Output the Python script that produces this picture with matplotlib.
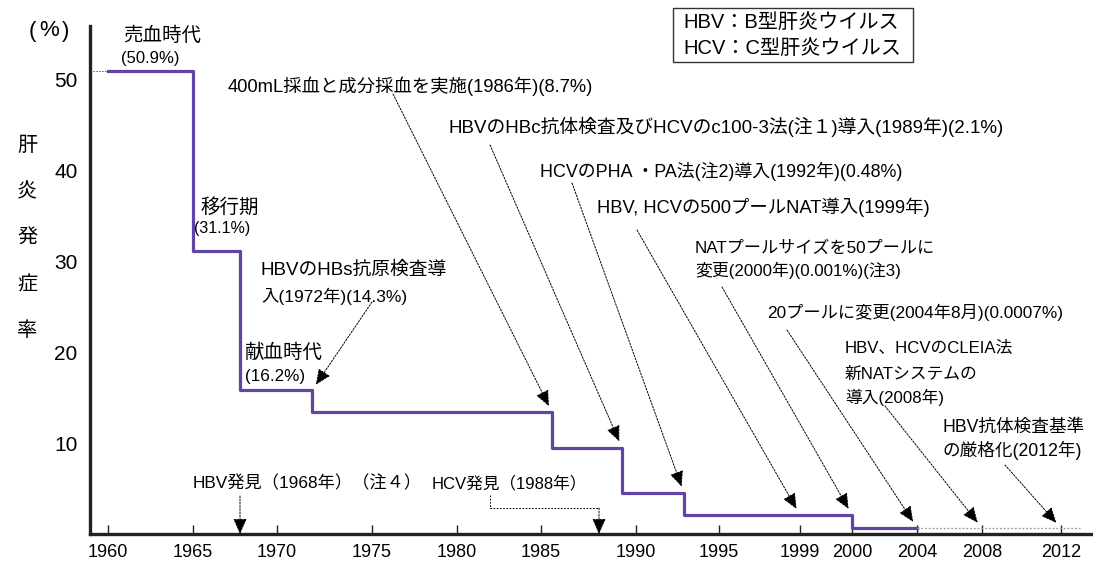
import numpy as np
import matplotlib
matplotlib.use('Agg')
import matplotlib.pyplot as plt
from matplotlib.lines import Line2D
from matplotlib.patches import Rectangle

# Latin in an Arial-like face, Japanese falls back to Noto CJK
plt.rcParams['font.family'] = ['Liberation Sans', 'Noto Sans CJK JP']

# step line (rate of post-transfusion hepatitis, %)
step_years = [1960, 1965, 1968, 1972, 1986, 1989, 1992, 2000, 2004]
step_rates = [50.9, 31.1, 15.8, 13.4, 9.5, 4.5, 2.1, 0.7]
tail_years = [2004, 2013]
tail_rate = 0.65

tick_years = [1960, 1965, 1970, 1975, 1980, 1985, 1990, 1995, 1999, 2000, 2004, 2008, 2012]
ytick_vals = [10, 20, 30, 40, 50]

# the original x axis is not linear: year -> position along the axis
axis_years = [1955, 1960, 1965, 1968, 1970, 1972, 1975, 1980, 1985, 1986, 1988,
              1989, 1990, 1992, 1995, 1999, 2000, 2004, 2008, 2012, 2020]
axis_pos = [23, 108, 193, 240, 277, 312, 372, 457, 541, 552, 599,
            622, 636, 684, 719, 800, 852, 917, 982, 1061, 1219]

# events pointed at by arrows
event_years = [1972, 1986, 1989, 1992, 1999, 2000, 2004, 2008, 2012]
discovery_years = [1968, 1988]

W, H = 1093, 564


def fig_xy(x, y):
    return (x / W, 1 - y / H)


def fwd(y):
    return np.interp(y, axis_years, axis_pos)


def inv(p):
    return np.interp(p, axis_pos, axis_years)


def rate_at(year):
    if year > step_years[-1]:
        return tail_rate
    i = np.searchsorted(step_years, year, 'left') - 1
    return step_rates[i]


fig = plt.figure(figsize=(W / 100, H / 100), dpi=100)
ax = fig.add_axes([90 / W, 1 - 534 / H, (W - 90) / W, 508 / H])
ax.set_xscale('function', functions=(fwd, inv))
ax.set_xlim(inv(90), inv(W))
ax.set_ylim(0, 55.9)

purple = '#6244a6'
ax.step(step_years, step_rates + [step_rates[-1]], where='post', color=purple, lw=2.3)
ax.plot(tail_years, [tail_rate, tail_rate], color='#999999', lw=0.9, ls=(0, (1.5, 1.5)))
ax.plot([inv(90), step_years[0]], [step_rates[0], step_rates[0]], color='#555555', lw=0.7,
        ls=(0, (1.5, 1.5)))

for s in ['top', 'right']:
    ax.spines[s].set_visible(False)
for s in ['left', 'bottom']:
    ax.spines[s].set_linewidth(2.4)
    ax.spines[s].set_color('#222222')

ax.set_yticks(ytick_vals, labels=[str(v) for v in ytick_vals], fontsize=15)
ax.tick_params(axis='y', length=0, pad=9)
ax.set_xticks(tick_years, labels=[str(v) for v in tick_years], fontsize=13)
ax.tick_params(axis='x', direction='in', length=6.5, width=1, color='#222222', pad=7)
ax.minorticks_off()

head = '-|>,head_length=0.95,head_width=0.42'
arrow_kw = dict(arrowstyle=head, lw=0.7, ls=(0, (1.8, 1.5)), color='k', mutation_scale=10,
                shrinkA=0, shrinkB=5)

# arrows from the notes to the steps
arrow_from = [(372, 302), (393, 94), (490, 145), (572, 183), (637, 230),
              (722, 287), (787, 330), (885, 406), (1005, 465)]
for yr, start in zip(event_years, arrow_from):
    ax.annotate('', xy=(yr, rate_at(yr)), xycoords='data',
                xytext=fig_xy(*start), textcoords='figure fraction', arrowprops=arrow_kw)

# discovery arrows down to the axis
disc_kw = dict(arrow_kw, shrinkB=0)
ax.annotate('', xy=(discovery_years[0], 0), xycoords='data',
            xytext=fig_xy(240, 496), textcoords='figure fraction', arrowprops=disc_kw)
fig.add_artist(Line2D([490 / W, 490 / W, 599 / W], [1 - 495 / H, 1 - 508 / H, 1 - 508 / H],
                      transform=fig.transFigure, color='k', lw=0.7, ls=(0, (1.8, 1.5))))
ax.annotate('', xy=(discovery_years[1], 0), xycoords='data',
            xytext=fig_xy(599, 508), textcoords='figure fraction', arrowprops=disc_kw)

notes = [
    ('売血時代', 123, 36, 14),
    ('(50.9%)', 121, 58, 12),
    ('移行期', 200, 207, 14),
    ('(31.1%)', 194, 229, 11.5),
    ('HBVのHBs抗原検査導', 261, 270, 13.5),
    ('入(1972年)(14.3%)', 261, 296, 12.5),
    ('献血時代', 245, 353, 14),
    ('(16.2%)', 245, 377, 12.3),
    ('400mL採血と成分採血を実施(1986年)(8.7%)', 228, 86, 13.2),
    ('HBVのHBc抗体検査及びHCVのc100-3法(注１)導入(1989年)(2.1%)', 448, 127, 13.5),
    ('HCVのPHA ・PA法(注2)導入(1992年)(0.48%)', 540, 171, 12.9),
    ('HBV, HCVの500プールNAT導入(1999年)', 597, 207, 13.2),
    ('NATプールサイズを50プールに', 695, 248, 12.3),
    ('変更(2000年)(0.001%)(注3)', 695, 270, 12.2),
    ('20プールに変更(2004年8月)(0.0007%)', 767, 312, 12.4),
    ('HBV、HCVのCLEIA法', 845, 348, 12.1),
    ('新NATシステムの', 845, 374, 12.1),
    ('導入(2008年)', 845, 397, 12.1),
    ('HBV抗体検査基準', 943, 427, 12.7),
    ('の厳格化(2012年)', 943, 450, 12.7),
    ('HBV発見（1968年）（注４）', 193, 483, 12.4),
    ('HCV発見（1988年）', 432, 483, 12),
]
for txt, x, y, fs in notes:
    fig.text(*fig_xy(x, y), txt, fontsize=fs, ha='left', va='center')

# legend box
fig.add_artist(Rectangle(fig_xy(673, 62), 240 / W, 54 / H, transform=fig.transFigure,
                         fill=False, ec='#333333', lw=1))
fig.text(*fig_xy(683, 22), 'HBV：B型肝炎ウイルス', fontsize=14.5, ha='left', va='center')
fig.text(*fig_xy(683, 48), 'HCV：C型肝炎ウイルス', fontsize=14.5, ha='left', va='center')

# y label, one character per line
for i, ch in enumerate('肝炎発症率'):
    fig.text(*fig_xy(27, 145 + i * 46.5), ch, fontsize=14.5, ha='center', va='center')
for ch, x in zip('(%)', [32, 49, 66]):
    fig.text(*fig_xy(x, 31), ch, fontsize=16, ha='center', va='center')

fig.savefig('out.png', dpi=100)
